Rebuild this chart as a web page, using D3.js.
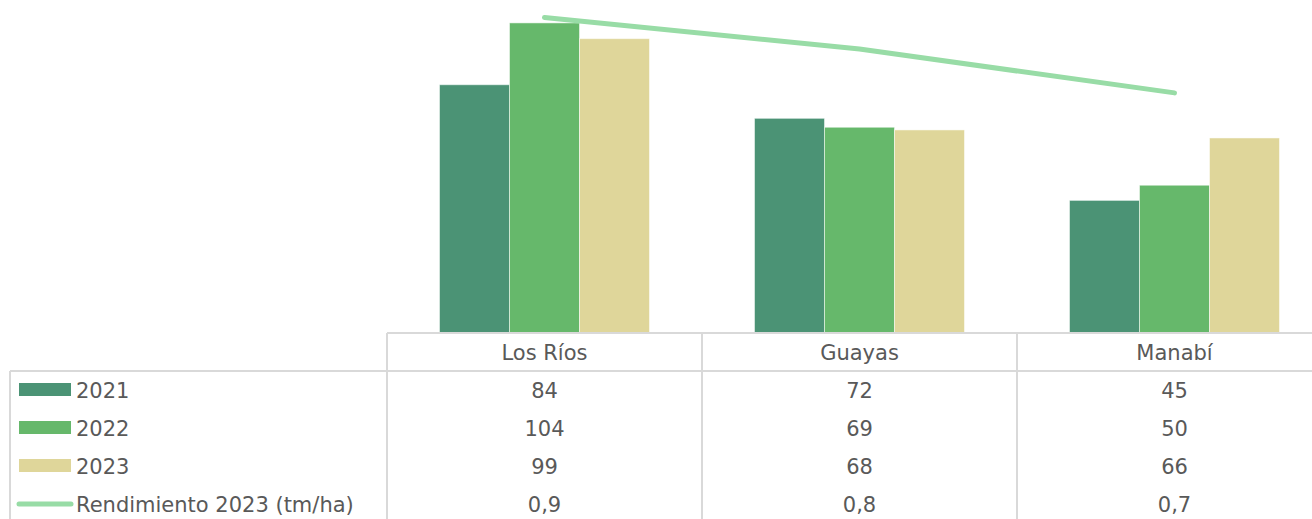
<!DOCTYPE html>
<html><head><meta charset="utf-8">
<script src="https://cdn.jsdelivr.net/npm/d3@7"></script>
<style>html,body{margin:0;padding:0;background:#fff;overflow:hidden}</style>
</head><body>
<svg id="chart" width="1312" height="519"></svg>
<script>
const categories = ["Los Ríos", "Guayas", "Manabí"];
const seriesNames = ["2021", "2022", "2023"];
const values2021 = [83.5, 72.2, 44.6];
const values2022 = [104.3, 69.2, 49.7];
const values2023 = [99.0, 68.3, 65.6];
const lineName = "Rendimiento 2023 (tm/ha)";
const rendimiento = [0.90, 0.81, 0.685];
const barColors = ["#4b9375", "#66b86b", "#dfd69a"];
const lineColor = "#98dca6";

const seriesValues = [values2021, values2022, values2023];
const svg = d3.select("#chart");
const tableLeft = 10, catLeft = 387, catRight = 1332, right = 1312;
const baseY = 333, headerBottom = 371, rowH = 38;
const font = "'DejaVu Sans', sans-serif";
const fontSize = 21;
const textColor = "#595959";
const gridColor = "#d9d9d9";

const x0 = d3.scaleBand().domain(categories).range([catLeft, catRight]).paddingInner(0).paddingOuter(0);
const x1 = d3.scaleBand().domain(seriesNames).range([0, x0.bandwidth()]).paddingOuter(0.75).paddingInner(0);
const y = d3.scaleLinear().domain([0, 112]).range([baseY, 0]);
const y2 = d3.scaleLinear().domain([0, 0.95]).range([baseY, 0]);

// bars
seriesNames.forEach((s, si) => {
  svg.append("g").selectAll("rect")
    .data(categories.map((c, ci) => ({c, v: seriesValues[si][ci]})))
    .join("rect")
    .attr("x", d => x0(d.c) + x1(s))
    .attr("y", d => y(d.v))
    .attr("width", x1.bandwidth())
    .attr("height", d => baseY - y(d.v))
    .attr("fill", barColors[si])
    .attr("stroke", "#ffffff").attr("stroke-opacity", 0.5).attr("stroke-width", 1);
});

// line
const line = d3.line().x((d, i) => x0(categories[i]) + x0.bandwidth() / 2).y(d => y2(d));
svg.append("path").datum(rendimiento).attr("d", line)
  .attr("fill", "none").attr("stroke", lineColor).attr("stroke-width", 5)
  .attr("stroke-linecap", "round").attr("stroke-linejoin", "round");

// table grid
const g = svg.append("g").attr("stroke", gridColor).attr("stroke-width", 2);
g.append("line").attr("x1", catLeft).attr("x2", right).attr("y1", baseY).attr("y2", baseY);
g.append("line").attr("x1", tableLeft).attr("x2", right).attr("y1", headerBottom).attr("y2", headerBottom);
g.append("line").attr("x1", tableLeft).attr("x2", tableLeft).attr("y1", headerBottom).attr("y2", 519);
categories.forEach(c => {
  g.append("line").attr("x1", x0(c)).attr("x2", x0(c)).attr("y1", baseY).attr("y2", 519);
});

// header labels
svg.append("g").selectAll("text").data(categories).join("text")
  .attr("x", d => x0(d) + x0.bandwidth() / 2)
  .attr("y", (baseY + headerBottom) / 2 + 1)
  .attr("text-anchor", "middle").attr("dominant-baseline", "central")
  .attr("font-family", font).attr("font-size", fontSize).attr("fill", textColor)
  .text(d => d);

// rows
const fmtInt = d3.format(".0f");
const fmtDec = v => d3.format(".1f")(v).replace(".", ",");
const rows = seriesNames.map((s, si) => ({name: s, type: "bar", color: barColors[si], vals: seriesValues[si].map(fmtInt)}))
  .concat([{name: lineName, type: "line", color: lineColor, vals: rendimiento.map(fmtDec)}]);

rows.forEach((r, ri) => {
  const cy = headerBottom + rowH * ri + 19;
  if (r.type === "bar") {
    svg.append("rect").attr("x", 19).attr("y", cy - 7).attr("width", 52).attr("height", 13).attr("fill", r.color);
  } else {
    svg.append("line").attr("x1", 19).attr("x2", 71).attr("y1", cy).attr("y2", cy)
      .attr("stroke", r.color).attr("stroke-width", 5).attr("stroke-linecap", "round");
  }
  svg.append("text").attr("x", 76).attr("y", cy + 1).attr("dominant-baseline", "central")
    .attr("font-family", font).attr("font-size", fontSize).attr("fill", textColor).text(r.name);
  r.vals.forEach((v, ci) => {
    svg.append("text").attr("x", x0(categories[ci]) + x0.bandwidth() / 2).attr("y", cy + 1)
      .attr("text-anchor", "middle").attr("dominant-baseline", "central")
      .attr("font-family", font).attr("font-size", fontSize).attr("fill", textColor).text(v);
  });
});
</script>
</body></html>
